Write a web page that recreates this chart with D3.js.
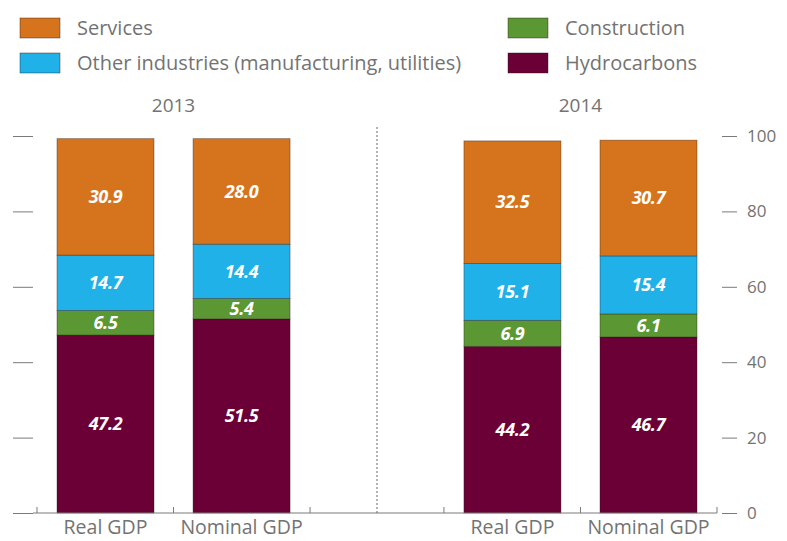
<!DOCTYPE html>
<html>
<head>
<meta charset="utf-8">
<script src="https://cdn.jsdelivr.net/npm/d3@7"></script>
<style>
  html, body { margin: 0; padding: 0; background: #fff; }
  svg { display: block; font-family: "Open Sans", "Noto Sans", sans-serif; }
</style>
</head>
<body>
<svg id="chart" width="787" height="541"></svg>
<script>
// Sector shares of GDP (%), by year and measure
const years = ["2013", "2014"];
const measures = ["Real GDP", "Nominal GDP"];
const sectors = ["Hydrocarbons", "Construction", "Other industries (manufacturing, utilities)", "Services"];
const colors = ["#6a0036", "#5b9732", "#1fb1e7", "#d6741d"];
const hydrocarbons = [47.2, 51.5, 44.2, 46.7];
const construction = [6.5, 5.4, 6.9, 6.1];
const otherIndustries = [14.7, 14.4, 15.1, 15.4];
const services = [30.9, 28.0, 32.5, 30.7];
const yTicks = [0, 20, 40, 60, 80, 100];

const svg = d3.select("#chart");
const textColor = "#737373";
const axisColor = "#7a7a7a";

// Rows of the stack: one per bar
const rows = [];
years.forEach((yr, i) => measures.forEach((m, j) => {
  const k = i * 2 + j;
  rows.push({
    year: yr, measure: m,
    "Hydrocarbons": hydrocarbons[k],
    "Construction": construction[k],
    "Other industries (manufacturing, utilities)": otherIndustries[k],
    "Services": services[k]
  });
}));

const y = d3.scaleLinear().domain([0, 100]).range([513, 136]);
const xYear = d3.scaleBand().domain(years).range([37, 717]).paddingInner(0.329).paddingOuter(0);
const xMeasure = d3.scaleBand().domain(measures).range([0, xYear.bandwidth()])
  .paddingInner(0.287).paddingOuter(0.147);
const color = d3.scaleOrdinal().domain(sectors).range(colors);

const stack = d3.stack().keys(sectors);
const series = stack(rows);

// Bars
const layer = svg.append("g").selectAll("g").data(series).join("g")
  .attr("fill", d => color(d.key));
layer.selectAll("rect").data(d => d).join("rect")
  .attr("x", d => xYear(d.data.year) + xMeasure(d.data.measure))
  .attr("width", xMeasure.bandwidth())
  .attr("y", d => y(d[1]))
  .attr("height", d => y(d[0]) - y(d[1]))
  .attr("stroke", "rgba(40,20,20,0.45)")
  .attr("stroke-width", 0.8);

// Value labels inside each segment
series.forEach(s => {
  svg.append("g").selectAll("text").data(s).join("text")
    .attr("x", d => xYear(d.data.year) + xMeasure(d.data.measure) + xMeasure.bandwidth() / 2)
    .attr("y", d => y((d[0] + d[1]) / 2))
    .attr("dy", "0.35em")
    .attr("text-anchor", "middle")
    .attr("fill", "#fff")
    .style("font-size", "18px")
    .style("font-weight", "bold")
    .style("font-style", "italic")
    .style("letter-spacing", "-0.3px")
    .text(d => (d[1] - d[0]).toFixed(1));
});

// Left tick marks (no labels)
svg.append("g").attr("transform", "translate(33,0)")
  .call(d3.axisLeft(y).tickValues(yTicks).tickSize(20).tickFormat(""))
  .call(g => g.select(".domain").remove())
  .call(g => g.selectAll("line").attr("stroke", axisColor));

// Right axis with labels
svg.append("g").attr("transform", "translate(722,0)")
  .call(d3.axisRight(y).tickValues(yTicks).tickSize(15).tickPadding(10))
  .call(g => g.select(".domain").remove())
  .call(g => g.selectAll("line").attr("stroke", axisColor))
  .call(g => g.selectAll("text").attr("fill", textColor)
    .style("font-size", "17px").style("font-family", "'Open Sans', sans-serif"));

// Baseline with category boundary ticks
const base = y(0);
svg.append("line").attr("x1", 33).attr("x2", xYear.range()[1])
  .attr("y1", base).attr("y2", base).attr("stroke", axisColor);
const boundaries = [];
years.forEach(yr => {
  const x0 = xYear(yr);
  boundaries.push(x0);
  boundaries.push(x0 + xYear.bandwidth() / 2);
  boundaries.push(x0 + xYear.bandwidth());
});
svg.append("g").selectAll("line").data(boundaries).join("line")
  .attr("x1", d => d).attr("x2", d => d)
  .attr("y1", base).attr("y2", base - 6)
  .attr("stroke", axisColor);

// Divider between years
const divX = (xYear("2013") + xYear.bandwidth() + xYear("2014")) / 2;
svg.append("line").attr("x1", divX).attr("x2", divX)
  .attr("y1", 127).attr("y2", base)
  .attr("stroke", "#666").attr("stroke-dasharray", "2,2").attr("stroke-width", 1);

// Year headings
svg.append("g").selectAll("text").data(years).join("text")
  .attr("x", d => xYear(d) + xYear.bandwidth() / 2)
  .attr("y", 105).attr("dy", "0.35em")
  .attr("text-anchor", "middle").attr("fill", textColor)
  .style("font-size", "19px")
  .text(d => d);

// Category labels under bars
svg.append("g").selectAll("text").data(rows).join("text")
  .attr("x", d => xYear(d.year) + xMeasure(d.measure) + xMeasure.bandwidth() / 2)
  .attr("y", 527).attr("dy", "0.35em")
  .attr("text-anchor", "middle").attr("fill", textColor)
  .style("font-size", "19.5px")
  .text(d => d.measure);

// Legend
const legendItems = [
  { key: "Services", x: 20, y: 18 },
  { key: "Other industries (manufacturing, utilities)", x: 20, y: 53 },
  { key: "Construction", x: 508, y: 18 },
  { key: "Hydrocarbons", x: 508, y: 53 }
];
const leg = svg.append("g").selectAll("g").data(legendItems).join("g")
  .attr("transform", d => `translate(${d.x},${d.y})`);
leg.append("rect").attr("width", 40).attr("height", 20)
  .attr("fill", d => color(d.key))
  .attr("stroke", "rgba(40,20,20,0.5)").attr("stroke-width", 0.8);
leg.append("text").attr("x", 57).attr("y", 10).attr("dy", "0.35em")
  .attr("fill", textColor).style("font-size", "20px")
  .text(d => d.key);
</script>
</body>
</html>
